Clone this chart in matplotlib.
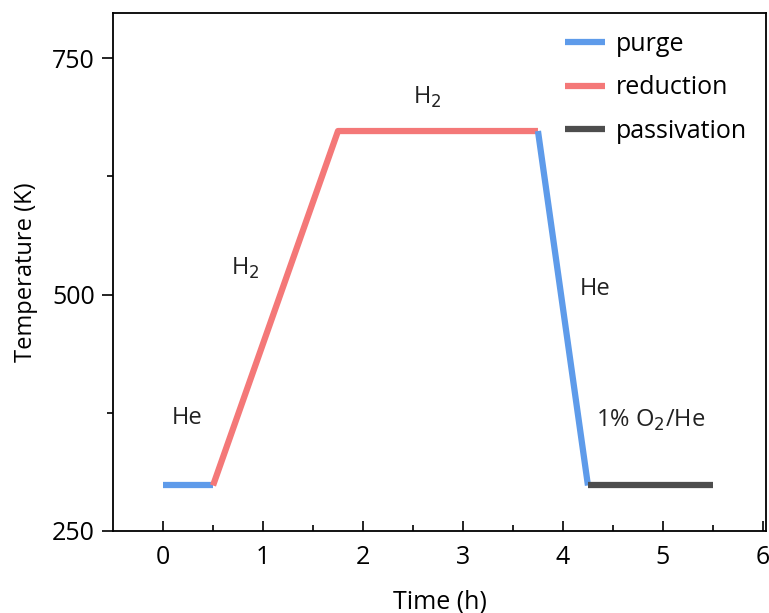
import numpy as np
import matplotlib.pyplot as plt

plt.rcParams['font.family'] = ['Open Sans', 'DejaVu Sans']

# segments (time in h, temperature in K)
purge1_t = [0, 0.5]
purge1_T = [298, 298]
red_t = [0.5, 1.75, 3.75]
red_T = [298, 673, 673]
purge2_t = [3.75, 4.25]
purge2_T = [673, 298]
pass_t = [4.25, 5.5]
pass_T = [298, 298]

labels = ['He', 'H$_2$', 'H$_2$', 'He', '1% O$_2$/He']
label_x = [0.09, 0.68, 2.5, 4.17, 4.33]
label_y = [369, 528, 709, 506, 367]

blue = '#5E9BEA'
red = '#F47878'
dark = '#4D4D4D'

fig = plt.figure(figsize=(7.69, 6.13), dpi=100)
ax = fig.add_axes([0.147, 0.134, 0.849, 0.845])

lw = 4.5
ax.plot(purge1_t, purge1_T, color=blue, lw=lw, solid_capstyle='butt', label='purge')
ax.plot(red_t, red_T, color=red, lw=lw, solid_capstyle='butt', label='reduction')
ax.plot(purge2_t, purge2_T, color=blue, lw=lw, solid_capstyle='butt')
ax.plot(pass_t, pass_T, color=dark, lw=lw, solid_capstyle='butt', label='passivation')

for s, x, y in zip(labels, label_x, label_y):
    ax.text(x, y, s, fontsize=17, ha='left', va='center', color='#222222')

ax.set_xlim(-0.5, 6.03)
ax.set_ylim(250, 798)
ax.set_xticks(np.arange(0, 7, 1))
ax.set_xticks(np.arange(0.5, 6, 1), minor=True)
ax.set_yticks([250, 500, 750])
ax.set_yticks([375, 625], minor=True)
ax.tick_params(axis='x', which='major', direction='in', length=7, width=1.2, labelsize=18, pad=10)
ax.tick_params(axis='x', which='minor', direction='in', length=4, width=1.2)
ax.tick_params(axis='y', which='major', direction='out', length=8, width=1.2, labelsize=18, pad=5)
ax.tick_params(axis='y', which='minor', direction='out', length=4, width=1.2)
for sp in ax.spines.values():
    sp.set_linewidth(1.3)

ax.set_xlabel('Time (h)', fontsize=18, labelpad=14)
ax.set_ylabel('Temperature (K)', fontsize=17, labelpad=10)

h, l = ax.get_legend_handles_labels()
ax.legend(h, l, loc='upper right', frameon=False, fontsize=18, handlelength=1.6,
          handletextpad=0.45, labelspacing=0.75, bbox_to_anchor=(1.0, 1.0), borderaxespad=0.35)

fig.savefig('out.png', dpi=100)
